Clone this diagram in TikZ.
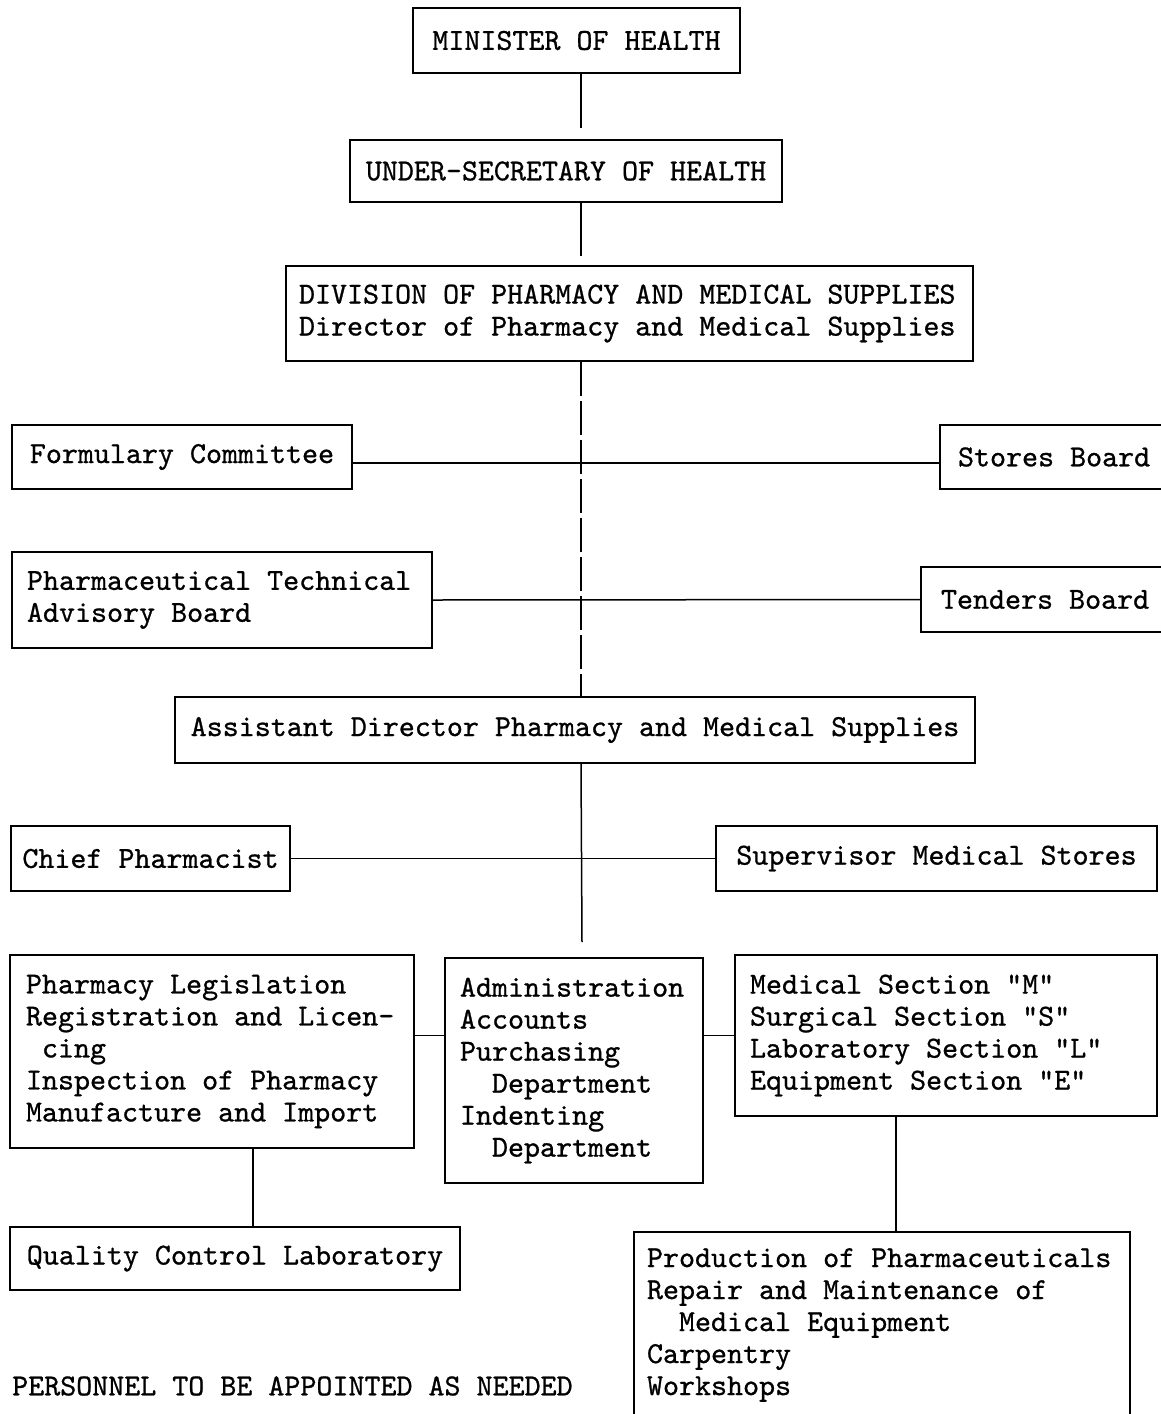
\documentclass[tikz,border=0pt]{standalone}
\usepackage{fontspec}
\newfontfamily\twfont{lmmono10-regular.otf}[FakeBold=0.8]
\newcommand\twsetup{\twfont\fontsize{30.5}{32}\selectfont}
\begin{document}
\begin{tikzpicture}[x=1pt,y=-1pt,
  every node/.style={font=\twsetup, inner sep=0pt},
  box/.style={draw, line width=2.4pt, inner ysep=0pt},
  cbox/.style={box, align=center},
  lbox/.style={box, align=flush left},
  conn/.style={line width=1.5pt},
  trunk/.style={line width=1.3pt, dash pattern=on 34pt off 5pt}]
\fill[white] (0,0) rectangle (1160,1414);
\useasboundingbox (0,0) rectangle (1160,1414);

% nodes
\node[cbox, minimum width=327pt, minimum height=65pt] (min) at (576.5,40.5) {MINISTER OF HEALTH};
\node[cbox, minimum width=432pt, minimum height=62pt] (under) at (566,171) {UNDER-SECRETARY OF HEALTH};
\node[lbox, minimum height=95pt, text width=661pt, inner xsep=13pt] (div) at (629.5,313.5)
  {DIVISION OF PHARMACY AND MEDICAL SUPPLIES\\Director of Pharmacy and Medical Supplies};
\node[cbox, minimum width=340pt, minimum height=64pt] (form) at (182,457) {Formulary Committee};
\node[lbox, minimum height=64pt, text width=199pt, inner xsep=18pt] (stores) at (1057.5,457) {Stores Board};
\node[lbox, minimum height=96pt, text width=390pt, inner xsep=15pt] (ptab) at (222,600)
  {Pharmaceutical Technical\\Advisory Board};
\node[lbox, minimum height=65pt, text width=214pt, inner xsep=20pt] (tend) at (1048,599.5) {Tenders Board};
\node[cbox, minimum width=800pt, minimum height=66pt] (asst) at (575,730)
  {Assistant Director Pharmacy and Medical Supplies};
\node[cbox, minimum width=279pt, minimum height=65pt] (chief) at (150.5,858.5) {Chief Pharmacist};
\node[cbox, minimum width=441pt, minimum height=65pt] (super) at (936.5,858.5) {Supervisor Medical Stores};
\node[lbox, minimum height=193pt, text width=372pt, inner xsep=16pt] (pl) at (212,1051.5)
  {Pharmacy Legislation\\Registration and Licen-\\\hspace*{16pt}cing\\Inspection of Pharmacy\\Manufacture and Import};
\node[lbox, minimum height=225pt, text width=228pt, inner xsep=15pt] (adm) at (574,1070.5)
  {Administration\\Accounts\\Purchasing\\\hspace*{32pt}Department\\Indenting\\\hspace*{32pt}Department};
\node[lbox, minimum height=161pt, text width=392pt, inner xsep=15pt] (med) at (946,1035.5)
  {Medical Section "M"\\Surgical Section "S"\\Laboratory Section "L"\\Equipment Section "E"};
\node[cbox, minimum width=450pt, minimum height=63pt] (qc) at (235,1258.5) {Quality Control Laboratory};
\node[lbox, minimum height=186pt, text width=470pt, inner xsep=13pt] (prod) at (882,1325)
  {Production of Pharmaceuticals\\Repair and Maintenance of\\\hspace*{32pt}Medical Equipment\\Carpentry\\Workshops};
\node[anchor=west] (note) at (12,1386) {PERSONNEL TO BE APPOINTED AS NEEDED};

% connectors
\coordinate (tx) at (581,0);
\coordinate (qx) at (253,0);
\coordinate (px) at (896,0);
\coordinate (tbot) at (582,942);
\draw[conn, shorten >=11pt] (min.south -| tx) -- (under.north -| tx);
\draw[conn, shorten >=9pt] (under.south -| tx) -- (div.north -| tx);
\draw[trunk] (div.south -| tx) -- (asst.north -| tx);
\draw[conn] (asst.south -| tx) -- (tbot);
\draw[conn] ([yshift=-6pt]form.east) -- ([yshift=-6pt]stores.west);
\draw[conn] (ptab.east) -- (tend.west);
\draw[conn] (chief.east) -- (super.west);
\draw[conn] (pl.east |- med.west) -- (adm.west |- med.west);
\draw[conn] (adm.east |- med.west) -- (med.west);
\draw[conn] (pl.south -| qx) -- (qc.north -| qx);
\draw[conn] (med.south -| px) -- (prod.north -| px);
\end{tikzpicture}
\end{document}
